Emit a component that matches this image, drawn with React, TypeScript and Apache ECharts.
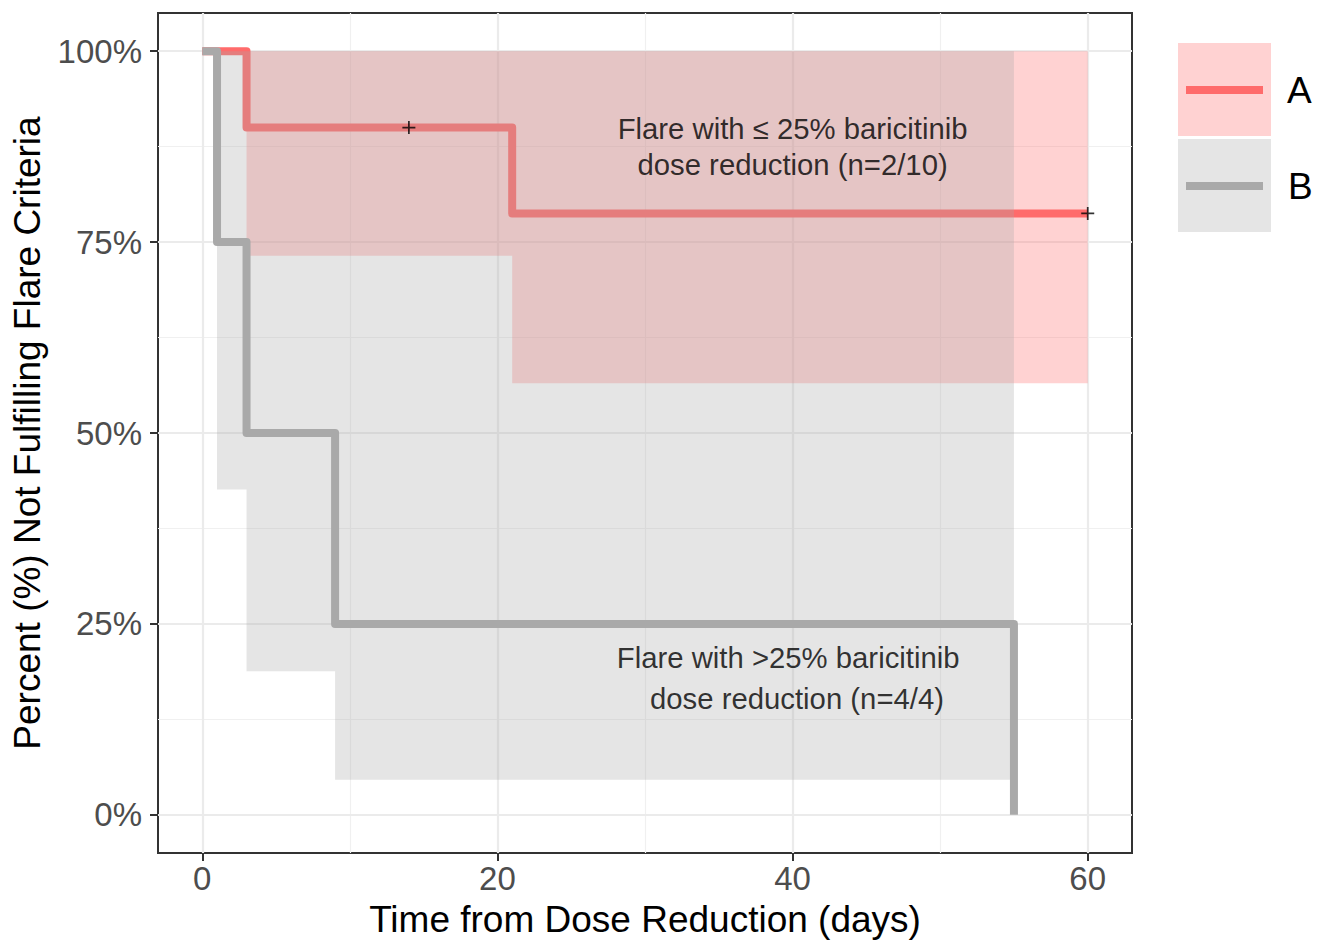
import React, { useEffect, useRef } from "react";
import * as echarts from "echarts";

// ---- data ----
const timeA = [0, 3, 21, 60];
const survA = [100, 90, 78.75, 78.75];
const timeB = [0, 1, 3, 9, 55];
const survB = [100, 75, 50, 25, 0];

const censorTimeA = [14, 60];
const censorSurvA = [90, 78.75];

const bandAStart = [3, 21];
const bandAEnd = [21, 60];
const bandALower = [73.2, 56.5];
const bandAUpper = [100, 100];

const bandBStart = [1, 3, 9];
const bandBEnd = [3, 9, 55];
const bandBLower = [42.6, 18.8, 4.6];
const bandBUpper = [100, 100, 100];

const xTicks = [0, 20, 40, 60];
const xMinor = [10, 30, 50];
const yTicks = [0, 25, 50, 75, 100];
const yMinor = [12.5, 37.5, 62.5, 87.5];

const annoText = [
  "Flare with \u2264 25% baricitinib",
  "dose reduction (n=2/10)",
  "Flare with >25% baricitinib",
  "dose reduction (n=4/4)",
];
const annoX = [40, 40, 39.7, 40.3];
const annoY = [89.9, 85.2, 20.55, 15.24];

const legendNames = ["A", "B"];

const RED = "#FF6B6B";
const GRAY = "#A9A9A9";
const RED_FILL = "rgba(255,107,107,0.3)";
const GRAY_FILL = "rgba(169,169,169,0.3)";
const FONT = "'Liberation Sans', Arial, sans-serif";

function bandSeries(start: number[], end: number[], lower: number[], upper: number[], fill: string, z: number) {
  return {
    type: "custom",
    silent: true,
    z,
    data: start.map((s, i) => [s, end[i], lower[i], upper[i]]),
    encode: { x: [0, 1], y: [2, 3] },
    renderItem: (params: any, api: any) => {
      if (params.dataIndex !== 0) return null;
      const pts: number[][] = [];
      for (let i = 0; i < start.length; i++) {
        pts.push(api.coord([start[i], upper[i]]));
        pts.push(api.coord([end[i], upper[i]]));
      }
      for (let i = start.length - 1; i >= 0; i--) {
        pts.push(api.coord([end[i], lower[i]]));
        pts.push(api.coord([start[i], lower[i]]));
      }
      return { type: "polygon", shape: { points: pts }, style: { fill, stroke: null } };
    },
  };
}

export default function App() {
  const ref = useRef<HTMLDivElement>(null);
  useEffect(() => {
    const chart = echarts.init(ref.current!, null, { renderer: "svg" });
    const majorStyle = { color: "#EBEBEB", width: 2.2, type: "solid" };
    const minorStyle = { color: "#F0F0F0", width: 1.2, type: "solid" };
    const gridLines = [
      ...xMinor.map((v) => ({ xAxis: v, lineStyle: minorStyle })),
      ...yMinor.map((v) => ({ yAxis: v, lineStyle: minorStyle })),
      ...xTicks.map((v) => ({ xAxis: v, lineStyle: majorStyle })),
      ...yTicks.map((v) => ({ yAxis: v, lineStyle: majorStyle })),
    ];
    const option: any = {
      animation: false,
      backgroundColor: "#FFFFFF",
      grid: {
        left: 158,
        right: 193,
        top: 13,
        bottom: 89,
        show: true,
        borderColor: "#333333",
        borderWidth: 2,
        backgroundColor: "transparent",
      },
      xAxis: {
        type: "value",
        min: -3,
        max: 63,
        name: "Time from Dose Reduction (days)",
        nameLocation: "middle",
        nameGap: 48,
        nameTextStyle: { fontSize: 37, color: "#000000", fontFamily: FONT },
        axisLine: { show: false, onZero: false },
        splitLine: { show: false },
        axisTick: { show: true, customValues: xTicks, length: 8, lineStyle: { color: "#333333", width: 2 } },
        axisLabel: { customValues: xTicks, fontSize: 33, color: "#4D4D4D", fontFamily: FONT, margin: 9 },
      },
      yAxis: {
        type: "value",
        min: -5,
        max: 105,
        name: "Percent (%) Not Fulfilling Flare Criteria",
        nameLocation: "middle",
        nameGap: 112,
        nameTextStyle: { fontSize: 37, color: "#000000", fontFamily: FONT },
        axisLine: { show: false, onZero: false },
        splitLine: { show: false },
        axisTick: { show: true, customValues: yTicks, length: 8, lineStyle: { color: "#333333", width: 2 } },
        axisLabel: {
          customValues: yTicks,
          formatter: "{value}%",
          fontSize: 33,
          color: "#4D4D4D",
          fontFamily: FONT,
          margin: 16,
        },
      },
      series: [
        {
          type: "line",
          name: "grid",
          z: 0,
          silent: true,
          data: [],
          markLine: {
            z: 0,
            silent: true,
            symbol: ["none", "none"],
            label: { show: false },
            emphasis: { disabled: true },
            animation: false,
            data: gridLines,
          },
        },
        bandSeries(bandAStart, bandAEnd, bandALower, bandAUpper, RED_FILL, 1),
        {
          type: "line",
          name: legendNames[0],
          z: 2,
          step: "end",
          showSymbol: false,
          silent: true,
          data: timeA.map((t, i) => [t, survA[i]]),
          lineStyle: { color: RED, width: 8, join: "round", cap: "butt" },
        },
        bandSeries(bandBStart, bandBEnd, bandBLower, bandBUpper, GRAY_FILL, 3),
        {
          type: "line",
          name: legendNames[1],
          z: 4,
          step: "end",
          showSymbol: false,
          silent: true,
          data: timeB.map((t, i) => [t, survB[i]]),
          lineStyle: { color: GRAY, width: 8, join: "round", cap: "butt" },
        },
        {
          type: "scatter",
          z: 5,
          silent: true,
          symbol: "path://M5.2,0H6.8V5.2H12V6.8H6.8V12H5.2V6.8H0V5.2H5.2Z",
          symbolSize: 13,
          itemStyle: { color: "#000000" },
          data: censorTimeA.map((t, i) => [t, censorSurvA[i]]),
        },
        {
          type: "scatter",
          z: 6,
          silent: true,
          symbolSize: 1,
          itemStyle: { color: "rgba(0,0,0,0)" },
          label: {
            show: true,
            position: "inside",
            fontSize: 29.3,
            color: "#000000",
            fontFamily: FONT,
            formatter: (p: any) => annoText[p.dataIndex],
          },
          data: annoX.map((x, i) => [x, annoY[i]]),
        },
      ],
      graphic: [
        { type: "rect", shape: { x: 1178, y: 43, width: 93, height: 93 }, style: { fill: RED_FILL } },
        { type: "rect", shape: { x: 1178, y: 139, width: 93, height: 93 }, style: { fill: GRAY_FILL } },
        { type: "line", shape: { x1: 1186, y1: 90, x2: 1263, y2: 90 }, style: { stroke: RED, lineWidth: 8 } },
        { type: "line", shape: { x1: 1186, y1: 186, x2: 1263, y2: 186 }, style: { stroke: GRAY, lineWidth: 8 } },
        {
          type: "text",
          x: 1287,
          y: 90,
          style: { text: legendNames[0], fontSize: 37, fill: "#000000", fontFamily: FONT, verticalAlign: "middle" },
        },
        {
          type: "text",
          x: 1288,
          y: 186,
          style: { text: legendNames[1], fontSize: 37, fill: "#000000", fontFamily: FONT, verticalAlign: "middle" },
        },
      ],
    };
    chart.setOption(option);
    return () => chart.dispose();
  }, []);
  return (
    <div
      ref={ref}
      style={{ position: "fixed", left: 0, top: 0, width: 1325, height: 943, background: "#fff" }}
    />
  );
}
